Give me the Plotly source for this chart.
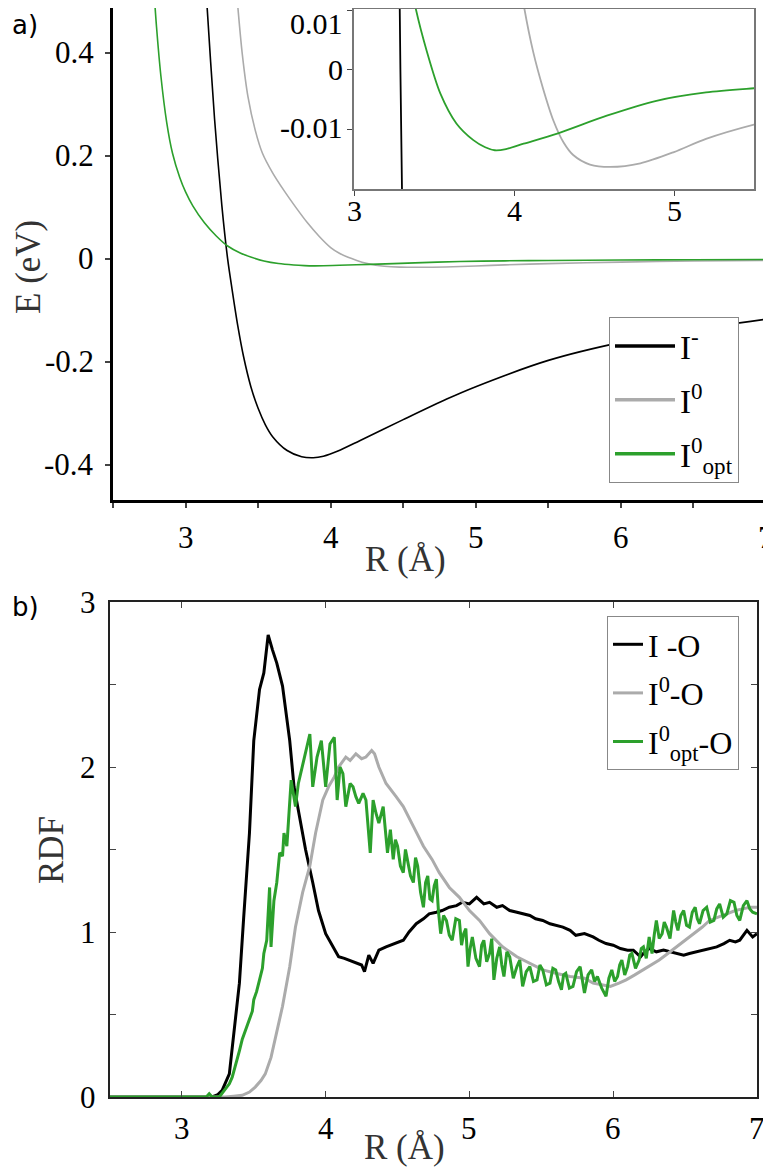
import plotly.graph_objects as go

# ---- panel a: interaction energies E(R) ----
r_ion = [3.12, 3.146, 3.2, 3.25, 3.29, 3.32, 3.36, 3.40, 3.45, 3.5, 3.55, 3.6, 3.7,
         3.8, 3.88, 3.95, 4.05, 4.2, 4.5, 4.8, 5.0, 5.5, 6.0, 6.5, 7.0]
e_ion = [0.625, 0.5, 0.271, 0.104, 0.0, -0.058, -0.13, -0.19, -0.248, -0.29, -0.322,
         -0.345, -0.372, -0.384, -0.386, -0.383, -0.373, -0.353, -0.312, -0.272,
         -0.248, -0.197, -0.162, -0.137, -0.117]

r_neu = [3.34, 3.36, 3.39, 3.43, 3.48, 3.53, 3.6, 3.68, 3.76, 3.84, 3.92, 4.0, 4.06,
         4.12, 4.18, 4.246, 4.31, 4.37, 4.475, 4.6, 4.79, 5.0, 5.2, 5.5, 6.0, 6.5, 7.0]
e_neu = [0.56, 0.49, 0.4, 0.315, 0.25, 0.205, 0.167, 0.132, 0.1, 0.07, 0.044,
         0.022, 0.011, 0.003, -0.003, -0.0085, -0.0122, -0.0143, -0.0159, -0.0163,
         -0.0157, -0.0138, -0.0116, -0.0092, -0.0062, -0.0042, -0.003]

r_opt = [2.78, 2.80, 2.83, 2.87, 2.91, 2.96, 3.0, 3.05, 3.13, 3.21, 3.29, 3.38, 3.454,
         3.54, 3.64, 3.746, 3.82, 3.88, 3.95, 4.06, 4.27, 4.58, 4.89, 5.2, 5.5, 6.0,
         6.5, 7.0]
e_opt = [0.53, 0.45, 0.355, 0.265, 0.205, 0.158, 0.13, 0.103, 0.07, 0.045, 0.025,
         0.011, 0.0032, -0.004, -0.009, -0.0118, -0.013, -0.0135, -0.0133, -0.0124,
         -0.0107, -0.0077, -0.0052, -0.0038, -0.0031, -0.0022, -0.0017, -0.0013]

# ---- panel b: radial distribution functions ----
r_io = [2.5, 3.21, 3.25, 3.28, 3.33, 3.36, 3.40, 3.43, 3.47, 3.50, 3.54, 3.57, 3.60,
        3.63, 3.66, 3.70, 3.72, 3.75, 3.78, 3.82, 3.86, 3.91, 3.95, 4.0, 4.05, 4.09,
        4.13, 4.16, 4.19, 4.22, 4.25, 4.27, 4.30, 4.33, 4.37, 4.42, 4.48, 4.54, 4.58,
        4.63, 4.68, 4.72, 4.77, 4.81, 4.86, 4.91, 4.95, 5.0, 5.05, 5.10, 5.14, 5.19,
        5.23, 5.28, 5.33, 5.37, 5.42, 5.46, 5.51, 5.56, 5.60, 5.65, 5.70, 5.74, 5.80,
        5.86, 5.90, 5.95, 6.0, 6.05, 6.10, 6.14, 6.19, 6.22, 6.25, 6.30, 6.35, 6.40,
        6.44, 6.49, 6.53, 6.58, 6.63, 6.68, 6.72, 6.77, 6.81, 6.85, 6.88, 6.93, 6.97, 7.0]
g_io = [0, 0, 0.015, 0.04, 0.14, 0.39, 0.69, 1.09, 1.6, 2.16, 2.47, 2.57, 2.80,
        2.71, 2.63, 2.49, 2.35, 2.16, 1.88, 1.70, 1.50, 1.30, 1.13, 0.99, 0.91, 0.85,
        0.84, 0.83, 0.82, 0.81, 0.80, 0.76, 0.86, 0.81, 0.89, 0.91, 0.93, 0.95, 1.0,
        1.05, 1.08, 1.11, 1.12, 1.13, 1.15, 1.16, 1.18, 1.17, 1.21, 1.17, 1.18, 1.15,
        1.16, 1.13, 1.12, 1.11, 1.10, 1.08, 1.07, 1.05, 1.04, 1.03, 1.01, 0.98, 0.99,
        0.97, 0.95, 0.93, 0.92, 0.90, 0.89, 0.89, 0.85, 0.88, 0.90, 0.88, 0.89, 0.88,
        0.87, 0.86, 0.87, 0.88, 0.89, 0.90, 0.91, 0.93, 0.95, 0.94, 0.95, 1.01, 0.97, 0.99]

r_n_o = [2.5, 3.30, 3.36, 3.42, 3.47, 3.51, 3.55, 3.58, 3.62, 3.65, 3.70, 3.75, 3.79,
         3.84, 3.89, 3.93, 3.98, 4.02, 4.06, 4.09, 4.14, 4.17, 4.21, 4.25, 4.28, 4.32,
         4.34, 4.37, 4.42, 4.49, 4.54, 4.61, 4.68, 4.74, 4.79, 4.86, 4.93, 5.0, 5.07,
         5.14, 5.23, 5.33, 5.42, 5.51, 5.60, 5.70, 5.80, 5.86, 5.92, 5.98, 6.04, 6.09,
         6.15, 6.21, 6.27, 6.32, 6.38, 6.44, 6.50, 6.56, 6.62, 6.67, 6.73, 6.79, 6.85,
         6.90, 6.95, 7.0]
g_n_o = [0, 0, 0.005, 0.01, 0.03, 0.06, 0.10, 0.14, 0.24, 0.35, 0.55, 0.79, 1.03,
         1.24, 1.40, 1.60, 1.80, 1.88, 1.94, 2.0, 2.06, 2.04, 2.08, 2.05, 2.06, 2.10,
         2.08, 2.0, 1.90, 1.82, 1.76, 1.64, 1.52, 1.44, 1.36, 1.27, 1.21, 1.13, 1.07,
         0.99, 0.91, 0.85, 0.81, 0.77, 0.75, 0.73, 0.72, 0.69, 0.68, 0.67, 0.69, 0.71,
         0.74, 0.77, 0.80, 0.83, 0.87, 0.91, 0.95, 0.99, 1.03, 1.07, 1.09, 1.11, 1.13,
         1.14, 1.15, 1.15]

r_opt_o = [2.5, 3.17, 3.19, 3.21, 3.26, 3.30, 3.33, 3.35, 3.37, 3.40, 3.42, 3.44, 3.47,
           3.49, 3.50, 3.52, 3.54, 3.56, 3.57, 3.59, 3.61, 3.62, 3.64, 3.66, 3.68, 3.70,
           3.71, 3.73, 3.76, 3.79, 3.81, 3.83, 3.86, 3.89, 3.91, 3.94, 3.97, 4.0, 4.03,
           4.06, 4.08, 4.10, 4.12, 4.14, 4.17, 4.19, 4.21, 4.23, 4.26, 4.28, 4.31, 4.33,
           4.35, 4.37, 4.40, 4.415, 4.43, 4.45, 4.47, 4.485, 4.50, 4.52, 4.54, 4.555,
           4.57, 4.59, 4.61, 4.625, 4.64, 4.66, 4.68, 4.695, 4.71, 4.725, 4.74, 4.755,
           4.77, 4.785, 4.80, 4.82, 4.84, 4.86, 4.88, 4.905, 4.93, 4.945, 4.96, 4.975,
           4.99, 5.005, 5.02, 5.045, 5.07, 5.085, 5.10, 5.12, 5.14, 5.155, 5.17, 5.19,
           5.21, 5.225, 5.24, 5.26, 5.28, 5.305, 5.33, 5.35, 5.37, 5.395, 5.42, 5.445,
           5.47, 5.49, 5.51, 5.535, 5.56, 5.58, 5.60, 5.62, 5.64, 5.655, 5.67, 5.695,
           5.72, 5.745, 5.77, 5.785, 5.80, 5.825, 5.85, 5.87, 5.89, 5.92, 5.95, 5.97,
           5.99, 6.01, 6.03, 6.045, 6.06, 6.08, 6.10, 6.115, 6.13, 6.155, 6.18, 6.195,
           6.21, 6.23, 6.25, 6.26, 6.27, 6.285, 6.30, 6.32, 6.34, 6.355, 6.37, 6.395,
           6.42, 6.435, 6.45, 6.47, 6.49, 6.51, 6.53, 6.55, 6.57, 6.585, 6.60, 6.625,
           6.65, 6.675, 6.70, 6.72, 6.74, 6.765, 6.79, 6.815, 6.84, 6.86, 6.88, 6.905,
           6.93, 6.95, 6.97, 7.0]
g_opt_o = [0, 0, 0.02, 0, 0, 0.05, 0.08, 0.12, 0.18, 0.28, 0.35, 0.40, 0.47,
           0.52, 0.59, 0.64, 0.71, 0.78, 0.87, 0.95, 1.27, 0.91, 1.19, 1.30, 1.48, 1.46,
           1.60, 1.52, 1.92, 1.76, 1.90, 1.98, 2.08, 2.20, 1.88, 2.06, 2.16, 1.88, 2.14,
           2.18, 1.80, 2.0, 1.96, 1.76, 1.90, 1.88, 1.82, 1.78, 1.84, 1.80, 1.48, 1.80,
           1.72, 1.66, 1.76, 1.60, 1.48, 1.62, 1.44, 1.56, 1.52, 1.40, 1.36, 1.50,
           1.44, 1.34, 1.30, 1.45, 1.40, 1.24, 1.15, 1.30, 1.34, 1.20, 1.19, 1.28,
           1.32, 1.12, 0.99, 1.10, 1.07, 0.98, 0.95, 1.08, 1.07, 0.92, 0.99, 1.02,
           0.79, 0.90, 0.97, 0.84, 0.79, 0.92, 0.95, 0.82, 0.87, 0.96, 0.71, 0.84,
           0.91, 0.80, 0.73, 0.88, 0.85, 0.72, 0.79, 0.83, 0.67, 0.76, 0.79, 0.70,
           0.71, 0.80, 0.77, 0.68, 0.69, 0.78, 0.77, 0.70, 0.65, 0.74, 0.75, 0.66,
           0.67, 0.76, 0.79, 0.70, 0.63, 0.74, 0.77, 0.70, 0.73, 0.66, 0.61, 0.72,
           0.77, 0.70, 0.73, 0.80, 0.83, 0.74, 0.79, 0.86, 0.87, 0.78, 0.83, 0.90,
           0.91, 0.84, 0.97, 0.92, 0.87, 0.98, 1.07, 0.96, 0.99, 1.06, 1.03, 0.96,
           1.13, 1.06, 1.01, 1.10, 1.13, 1.04, 1.03, 1.12, 1.15, 1.08, 1.05, 1.13,
           1.15, 1.06, 1.07, 1.14, 1.17, 1.09, 1.11, 1.19, 1.18, 1.10, 1.07, 1.16,
           1.19, 1.14, 1.12, 1.11]

# tick values and their labels
x_ticks = [3, 4, 5, 6, 7]
x_labels = ["3", "4", "5", "6", "7"]
ea_ticks = [-0.4, -0.2, 0, 0.2, 0.4]
ea_labels = ["-0.4", "-0.2", "0", "0.2", "0.4"]
rdf_ticks = [0, 1, 2, 3]
rdf_labels = ["0", "1", "2", "3"]
xin_ticks = [3, 4, 5]
xin_labels = ["3", "4", "5"]
ein_ticks = [-0.01, 0, 0.01]
ein_labels = ["-0.01", "0", "0.01"]

BLACK = "#000000"
GREY = "#ababab"
GREEN = "#2ca02c"
SERIF = "Liberation Serif"

# the page body has an 8px margin, so the figure is 8px smaller and offset
OFF = 8
W, H = 771 - OFF, 1167 - OFF


def px(x):
    return (x - OFF) / W


def py(y):
    return min(1.0, 1 - (y - OFF) / H)


fig = go.Figure()

for r, e, c in [(r_ion, e_ion, BLACK), (r_neu, e_neu, GREY), (r_opt, e_opt, GREEN)]:
    fig.add_trace(go.Scatter(x=r, y=e, mode="lines",
                             line=dict(color=c, width=1.6, shape="spline", smoothing=0.8),
                             showlegend=False, xaxis="x", yaxis="y"))
    fig.add_trace(go.Scatter(x=r, y=e, mode="lines",
                             line=dict(color=c, width=1.8, shape="spline", smoothing=0.8),
                             showlegend=False, xaxis="x3", yaxis="y3"))

for name, c in [("I<sup>-</sup>", BLACK), ("I<sup>0</sup>", GREY), ("I<sup>0</sup><sub>opt</sub>", GREEN)]:
    fig.add_trace(go.Scatter(x=[None], y=[None], mode="lines", line=dict(color=c, width=3.5),
                             name=name, legendgroup=name, xaxis="x", yaxis="y", legend="legend"))

for r, g, c, name in [(r_io, g_io, BLACK, "I -O"), (r_n_o, g_n_o, GREY, "I<sup>0</sup>-O"),
                      (r_opt_o, g_opt_o, GREEN, "I<sup>0</sup><sub>opt</sub>-O")]:
    fig.add_trace(go.Scatter(x=r, y=g, mode="lines", line=dict(color=c, width=3),
                             name=name, legendgroup=name, xaxis="x2", yaxis="y2", legend="legend2"))

# tick labels are drawn as annotations placed on the axes
base = dict(showgrid=False, zeroline=False, showline=True, automargin=False,
            showticklabels=False)

fig.update_layout(
    width=W, height=H,
    margin=dict(l=0, r=0, t=0, b=0),
    paper_bgcolor="white", plot_bgcolor="white",
    font=dict(family=SERIF, color="black"),
    xaxis=dict(domain=[px(113), px(766)], anchor="y", range=[2.5, 7],
               tickvals=x_ticks, ticks="outside", ticklen=5, tickwidth=1.5,
               minor=dict(dtick=0.5, ticks="outside", ticklen=5, tickwidth=1.5),
               linecolor="black", linewidth=2.5, mirror=True, **base),
    yaxis=dict(domain=[py(500), py(1)], anchor="x", range=[-0.468, 0.487],
               tickvals=ea_ticks, ticks="outside", ticklen=5, tickwidth=1.5,
               linecolor="black", linewidth=2.5, mirror=True, **base),
    xaxis2=dict(domain=[px(110), px(757)], anchor="y2", range=[2.5, 7],
                tickvals=x_ticks, ticks="inside", ticklen=6, tickwidth=1.2,
                linecolor="#222", linewidth=2.2, mirror="ticks", **base),
    yaxis2=dict(domain=[py(1097), py(602)], anchor="x2", range=[0, 3],
                tickvals=rdf_ticks, ticks="inside", ticklen=6, tickwidth=1.2,
                minor=dict(dtick=0.5, ticks="inside", ticklen=6, tickwidth=1.2),
                linecolor="#222", linewidth=2.2, mirror="ticks", **base),
    xaxis3=dict(domain=[px(354), px(754)], anchor="y3", range=[3, 5.5],
                tickvals=xin_ticks, ticks="outside", ticklen=5, tickwidth=1.2,
                linecolor="#777", linewidth=1.5, mirror=True, **base),
    yaxis3=dict(domain=[py(189), py(9)], anchor="x3", range=[-0.02, 0.0102],
                tickvals=ein_ticks, ticks="outside", ticklen=5, tickwidth=1.2,
                linecolor="#777", linewidth=1.5, mirror=True, **base),
    legend=dict(x=px(609), y=py(317), xanchor="left", yanchor="top",
                font=dict(family=SERIF, size=33, color="black"),
                bgcolor="white", bordercolor="#888", borderwidth=1,
                itemwidth=60, tracegroupgap=8),
    legend2=dict(x=px(607), y=py(616), xanchor="left", yanchor="top",
                 font=dict(family=SERIF, size=32, color="black"),
                 bgcolor="white", bordercolor="#888", borderwidth=1,
                 itemwidth=30, tracegroupgap=4),
    shapes=[dict(type="rect", xref="x3 domain", yref="y3 domain", x0=0, x1=1, y0=0, y1=1,
                 fillcolor="#f2f2f2", line=dict(width=0), layer="below")],
)


def x_tick_labels(xa, ticks, labels, shift, size):
    for v, t in zip(ticks, labels):
        fig.add_annotation(text=t, x=v, xref=xa, y=0, yref=f"y{xa[1:]} domain",
                           xanchor="center", yanchor="middle", yshift=-shift,
                           showarrow=False, font=dict(family=SERIF, size=size, color="black"))


def y_tick_labels(ya, ticks, labels, shift, size, extra=None):
    extra = extra or {}
    for v, t in zip(ticks, labels):
        fig.add_annotation(text=t, y=v, yref=ya, x=0, xref=f"x{ya[1:]} domain",
                           xanchor="right", yanchor="middle", xshift=-shift,
                           yshift=extra.get(t, 0),
                           showarrow=False, font=dict(family=SERIF, size=size, color="black"))


x_tick_labels("x", x_ticks, x_labels, 37, 31)
y_tick_labels("y", ea_ticks, ea_labels, 17, 31)
x_tick_labels("x2", x_ticks, x_labels, 31, 31)
y_tick_labels("y2", rdf_ticks, rdf_labels, 12, 31)
x_tick_labels("x3", xin_ticks, xin_labels, 21, 30)
# the top inset label sits just below its tick, as in the original
y_tick_labels("y3", ein_ticks, ein_labels, 9, 30, extra={"0.01": -13, "-0.01": 2})

title_font = dict(family=SERIF, size=35, color="#333")
for text, x, y, angle in [("E (eV)", 28, 267, -90), ("R (Å)", 405, 560, 0),
                          ("RDF", 51, 850, -90), ("R (Å)", 404, 1147, 0)]:
    fig.add_annotation(text=text, x=px(x), y=py(y), xref="paper", yref="paper",
                       xanchor="center", yanchor="middle", textangle=angle,
                       showarrow=False, font=title_font)

panel_font = dict(family="DejaVu Sans", size=26, color="black")
fig.add_annotation(text="a)", x=0, y=py(25), xref="paper", yref="paper", xanchor="left",
                   xshift=2, yanchor="middle", showarrow=False, font=panel_font)
fig.add_annotation(text="b)", x=0, y=py(607), xref="paper", yref="paper", xanchor="left",
                   xshift=2, yanchor="middle", showarrow=False, font=panel_font)

fig.write_html("out.html")
